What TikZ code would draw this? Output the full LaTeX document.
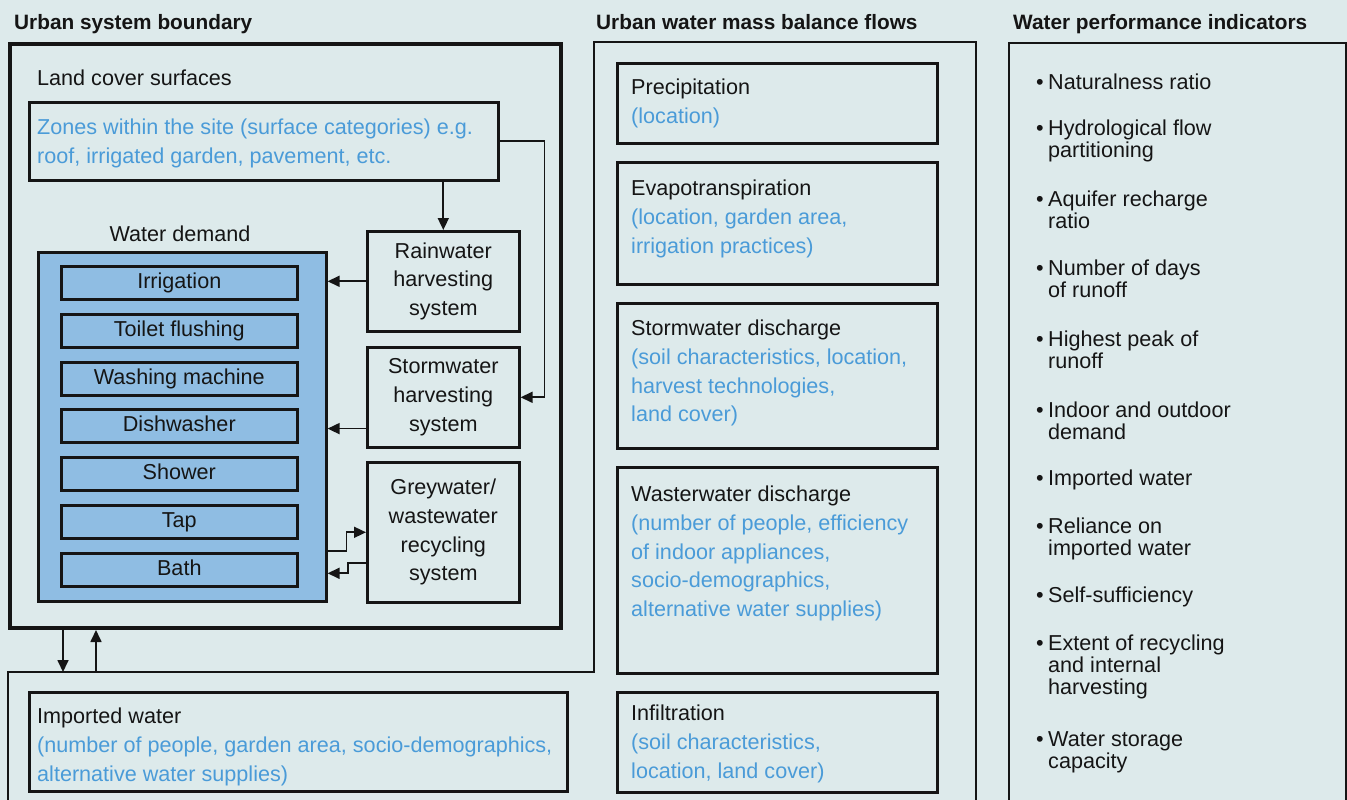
\documentclass[tikz,border=0pt]{standalone}
\usepackage{fontspec}
\setmainfont{Liberation Sans}
\usetikzlibrary{arrows.meta}
\definecolor{bg}{HTML}{DDEAEB}
\definecolor{bluetxt}{HTML}{4A9BD8}
\definecolor{demandfill}{HTML}{8FBDE3}
\definecolor{ink}{HTML}{151515}
\newcommand\bodyfont{\fontsize{21.6}{28.7}\selectfont}
\newcommand\indfont{\fontsize{21.6}{22}\selectfont}
\newcommand\headfont{\fontsize{20.8}{24}\selectfont\bfseries}
\newcommand\fstrut{\rule{0pt}{15pt}}
\begin{document}
\begin{tikzpicture}[x=1pt,y=-1pt,
  box/.style={draw=ink, line width=2.6pt, inner sep=0pt, anchor=north west},
  cbox/.style={box, align=center, font=\bodyfont, text=ink},
  arr/.style={draw=ink, line width=1.7pt, -{Triangle[length=12pt,width=11pt]}},
  txt/.style={inner sep=0pt, anchor=north west, align=left, font=\bodyfont, text=ink},
  bluetext/.style={txt, text=bluetxt},
  indtxt/.style={inner sep=0pt, anchor=north west, align=left, font=\indfont, text=ink},
  bul/.style={inner sep=0pt, anchor=base west, font=\indfont, text=ink},
  head/.style={inner sep=0pt, anchor=base west, font=\headfont, text=ink},
  item/.style={box, fill=demandfill, minimum width=236pt, minimum height=33pt,
    text height=15pt, text depth=4pt, font=\bodyfont, text=ink, anchor=north west}]

% background and page size
\fill[bg] (0,0) rectangle (1347,800);
\useasboundingbox (0,0) rectangle (1347,800);

% headers
\node[head] (h1) at (14,30) {Urban system boundary};
\node[head] (h2) at (596,30) {Urban water mass balance flows};
\node[head] (h3) at (1013,30) {Water performance indicators};

% outer thin outline (mass balance + lower region)
\draw[draw=ink, line width=2pt] (8,803) -- (8,672) coordinate (lowtop) -- (594,672) -- (594,42) -- (976,42) -- (976,803);

% urban system boundary
\node[box, line width=4pt, minimum width=551pt, minimum height=584pt] (boundary) at (8,42) {};

\node[inner sep=0pt, anchor=base west, font=\bodyfont, text=ink] (landlbl) at (37,85) {Land cover surfaces};
\node[box, minimum width=469pt, minimum height=78pt] (zones) at (28,101) {};
\node[bluetext] (zonestxt) at (37,119) {\fstrut Zones within the site (surface categories) e.g.\\roof, irrigated garden, pavement, etc.};

\node[inner sep=0pt, anchor=base, font=\bodyfont, text=ink] (demlbl) at (180,241) {Water demand};
\node[box, fill=demandfill, minimum width=288pt, minimum height=349pt] (demand) at (37,251) {};
\node[item] (irr) at (60,265) {Irrigation};
\node[item] (toi) at (60,313) {Toilet flushing};
\node[item] (was) at (60,361) {Washing machine};
\node[item] (dis) at (60,408) {Dishwasher};
\node[item] (sho) at (60,456) {Shower};
\node[item] (tap) at (60,504) {Tap};
\node[item] (bat) at (60,552) {Bath};

\node[cbox, minimum width=152pt, minimum height=100pt] (rain) at (366,230) {Rainwater\\harvesting\\system};
\node[cbox, minimum width=152pt, minimum height=100pt] (storm) at (366,346) {Stormwater\\harvesting\\system};
\node[cbox, minimum width=152pt, minimum height=140pt] (grey) at (366,461) {Greywater/\\wastewater\\recycling\\system};

% connectors inside the boundary
\draw[arr] (rain.north |- zones.south) -- (rain.north);
\draw[arr] (zones.east) -- ++(45,0) |- (storm.east);
\draw[arr] (rain.west) -- (rain.west -| demand.east);
\draw[arr] ([yshift=20pt]storm.south west) coordinate (s1) -- (s1 -| demand.east);
\draw[arr] ([yshift=-19pt]demand.east |- grey.west) -- ++(19,0) |- (grey.west);
\draw[arr] ([yshift=-31pt]grey.west) -- ++(-18,0) |- ([yshift=-41pt]demand.east |- grey.west);

% arrows between boundary and the lower region
\draw[arr] ([xshift=55pt]boundary.south west) coordinate (d1) -- (d1 |- lowtop);
\draw[arr] ([xshift=88pt]boundary.south west |- lowtop) -- ([xshift=88pt]boundary.south west);

% imported water
\node[box, minimum width=538pt, minimum height=99pt] (imp) at (28,691) {};
\node[txt] (imptxt) at (37,708) {\fstrut Imported water\\\textcolor{bluetxt}{(number of people, garden area, socio-demographics,}\\\textcolor{bluetxt}{alternative water supplies)}};

% mass balance flows
\node[box, minimum width=320pt, minimum height=80pt] (prec) at (616,62) {};
\node[txt] (prectxt) at (631,79) {\fstrut Precipitation\\\textcolor{bluetxt}{(location)}};
\node[box, minimum width=320pt, minimum height=122pt] (evap) at (616,161) {};
\node[txt] (evaptxt) at (631,180) {\fstrut Evapotranspiration\\\textcolor{bluetxt}{(location, garden area,}\\\textcolor{bluetxt}{irrigation practices)}};
\node[box, minimum width=320pt, minimum height=145pt] (stormd) at (616,302) {};
\node[txt] (stormdtxt) at (631,320) {\fstrut Stormwater discharge\\\textcolor{bluetxt}{(soil characteristics, location,}\\\textcolor{bluetxt}{harvest technologies,}\\\textcolor{bluetxt}{land cover)}};
\node[box, minimum width=320pt, minimum height=206pt] (waste) at (616,466) {};
\node[txt] (wastetxt) at (631,486) {\fstrut Wasterwater discharge\\\textcolor{bluetxt}{(number of people, efficiency}\\\textcolor{bluetxt}{of indoor appliances,}\\\textcolor{bluetxt}{socio-demographics,}\\\textcolor{bluetxt}{alternative water supplies)}};
\node[box, minimum width=320pt, minimum height=100pt] (infil) at (616,691) {};
\node[txt] (infiltxt) at (631,705) {\fstrut Infiltration\\\textcolor{bluetxt}{(soil characteristics,}\\\textcolor{bluetxt}{location, land cover)}};

% indicators
\node[box, line width=2pt, minimum width=337pt, minimum height=780pt] (ind) at (1008,42) {};
\foreach \n/\yb/\t in {
  i1/89/{Naturalness ratio},
  i2/135/{Hydrological flow\\partitioning},
  i3/206/{Aquifer recharge\\ratio},
  i4/275/{Number of days\\of runoff},
  i5/346/{Highest peak of\\runoff},
  i6/417/{Indoor and outdoor\\demand},
  i7/485/{Imported water},
  i8/533/{Reliance on\\imported water},
  i9/602/{Self-sufficiency},
  i10/650/{Extent of recycling\\and internal\\harvesting},
  i11/746/{Water storage\\capacity}}{
  \node[bul] (b\n) at (1036,\yb) {•};
  \node[indtxt] (\n) at (1048,\yb-15) {\fstrut\t};
}
\end{tikzpicture}
\end{document}
